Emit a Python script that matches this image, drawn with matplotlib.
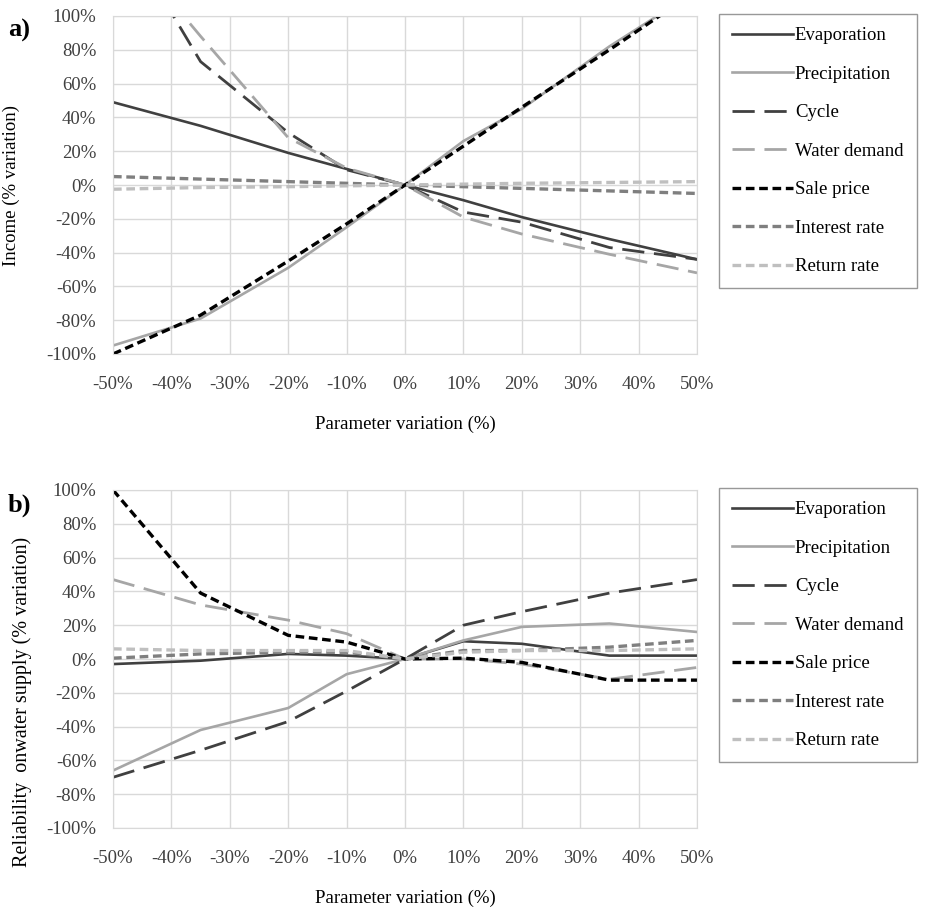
import numpy as np
import matplotlib
matplotlib.use('Agg')
import matplotlib.pyplot as plt
from matplotlib.ticker import FuncFormatter, MultipleLocator

plt.rcParams.update({'font.family': ['Liberation Serif', 'DejaVu Serif'],
                     'font.size': 13.5})

# parameter variation (%) at which the model was run
steps = [-50, -35, -20, -10, 0, 10, 20, 35, 50]
names = ['Evaporation', 'Precipitation', 'Cycle', 'Water demand',
         'Sale price', 'Interest rate', 'Return rate']

# a) income, % variation
inc_evaporation = [49, 35, 19, 9.5, 0, -9, -19, -32, -44]
inc_precipitation = [-95, -79, -49, -25, 0, 26, 45, 82, 115]
inc_cycle = [160, 73, 31, 9, 0, -16, -22, -37, -44]
inc_water_demand = [150, 88, 28, 10, 0, -19, -29, -41, -52]
inc_sale_price = [-100, -77, -45, -23, 0, 23, 46, 80, 115]
inc_interest_rate = [5, 3.5, 2, 1, 0, -1, -2, -3.5, -5]
inc_return_rate = [-2.5, -1.5, -1, -0.5, 0, 0.5, 1, 1.5, 2]

# b) reliability on water supply, % variation
rel_evaporation = [-3, -1, 3, 2, 0, 10.5, 9, 2, 2]
rel_precipitation = [-66, -42, -29, -9, 0, 11, 19, 21, 16]
rel_cycle = [-70, -54, -37, -19, 0, 20, 28, 39, 47]
rel_water_demand = [47, 32, 23, 15, 0, 0, -3, -12, -5]
rel_sale_price = [100, 39, 14, 10, 0, 0.5, -2, -12.5, -12.5]
rel_interest_rate = [0.5, 3, 4, 4, 0, 5, 5, 7, 11]
rel_return_rate = [6, 5, 5, 5, 0, 4, 5, 5, 6]

income = [inc_evaporation, inc_precipitation, inc_cycle, inc_water_demand,
          inc_sale_price, inc_interest_rate, inc_return_rate]
reliab = [rel_evaporation, rel_precipitation, rel_cycle, rel_water_demand,
          rel_sale_price, rel_interest_rate, rel_return_rate]

# line styles (colour, width, dash pattern)
styles = [
    dict(color='#404040', lw=1.9, ls='-'),
    dict(color='#a6a6a6', lw=1.9, ls='-'),
    dict(color='#404040', lw=2.0, ls=(0, (8, 3.5))),
    dict(color='#a6a6a6', lw=2.0, ls=(0, (8, 3.5))),
    dict(color='#000000', lw=2.4, ls=(0, (2.6, 1.4))),
    dict(color='#7f7f7f', lw=2.4, ls=(0, (2.6, 1.4))),
    dict(color='#bfbfbf', lw=2.4, ls=(0, (2.6, 1.4))),
]

W, H = 927, 907
fig = plt.figure(figsize=(W / 100, H / 100), dpi=100)

pct = FuncFormatter(lambda v, p: '%d%%' % round(v))


def panel(top_px, series, leg_top_px):
    ax = fig.add_axes([113 / W, 1 - (top_px + 338) / H, 584 / W, 338 / H])
    for vals, name, st in zip(series, names, styles):
        ax.plot(steps, vals, label=name, **st)
    ax.set_xlim(-50, 50)
    ax.set_ylim(-100, 100)
    ax.xaxis.set_major_locator(MultipleLocator(10))
    ax.yaxis.set_major_locator(MultipleLocator(20))
    ax.xaxis.set_major_formatter(pct)
    ax.yaxis.set_major_formatter(pct)
    ax.tick_params(length=0, labelsize=13.5, colors='#404040')
    ax.tick_params(axis='x', pad=16)
    ax.tick_params(axis='y', pad=12)
    ax.grid(color='#d9d9d9', lw=1.0)
    ax.set_axisbelow(True)
    for s in ax.spines.values():
        s.set_color('#d9d9d9')
    ax.set_xlabel('Parameter variation (%)', fontsize=13.5, labelpad=16)
    leg = ax.legend(loc='upper left', bbox_to_anchor=(719 / W, 1 - leg_top_px / H),
                    bbox_transform=fig.transFigure, frameon=True, fancybox=False,
                    edgecolor='#7f7f7f', fontsize=13.5, handlelength=3.25,
                    handletextpad=0.1, labelspacing=1.14, borderpad=0.7,
                    borderaxespad=0)
    leg.get_frame().set_linewidth(1.0)
    return ax


ax_a = panel(16, income, 14)
ax_a.set_ylabel('Income (% variation)', fontsize=13.5)
ax_a.yaxis.set_label_coords(-93 / 584, 0.5)
fig.text(8 / W, 1 - 30 / H, 'a)', fontsize=19, fontweight='bold', va='center')

ax_b = panel(490, reliab, 488)
fig.text(22 / W, 1 - 702 / H, 'Reliability  onwater supply (% variation)',
         fontsize=14.5, rotation=90, ha='center', va='center')
fig.text(8 / W, 1 - 505 / H, 'b)', fontsize=19, fontweight='bold', va='center')

fig.savefig('out.png', dpi=100)
